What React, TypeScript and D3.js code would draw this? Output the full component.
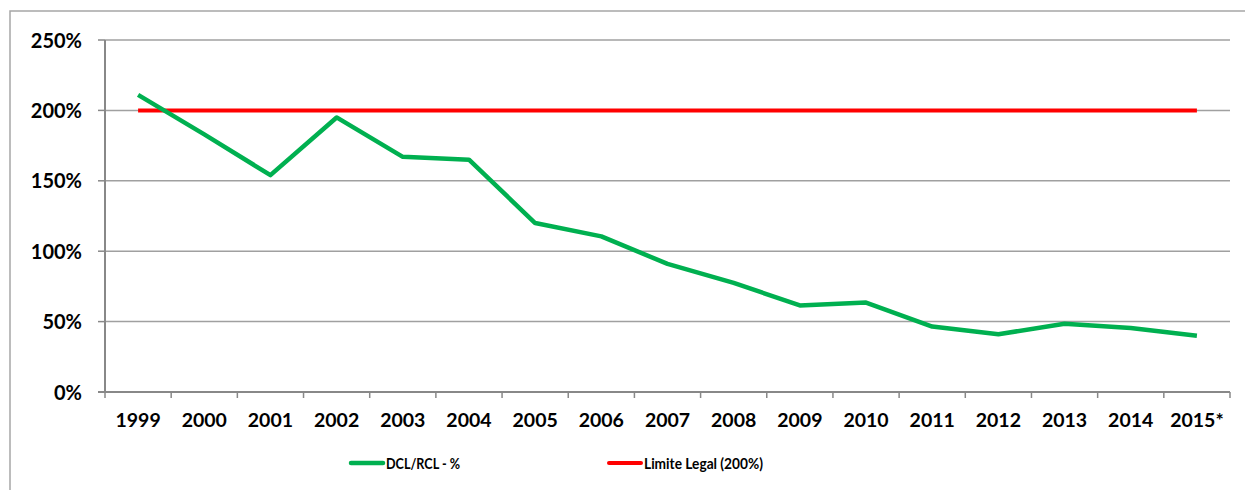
import React from "react";
import * as d3 from "d3";

const years = ["1999","2000","2001","2002","2003","2004","2005","2006","2007","2008","2009","2010","2011","2012","2013","2014","2015*"];
const dclRcl = [211, 183, 154, 195, 167, 165, 120, 110.5, 91, 77.5, 61.5, 63.5, 46.5, 41, 48.5, 45.5, 40];
const legalLimit = years.map(() => 200);
const yTicks = [0, 50, 100, 150, 200, 250];
const seriesNames = ["DCL/RCL - %", "Limite Legal (200%)"];

const W = 1245, H = 490;
const plot = { left: 105, right: 1230, top: 40, bottom: 392 };
const FONT = "Lato, 'Open Sans', sans-serif";

export default function App() {
  const x = d3.scaleBand<string>().domain(years).range([plot.left, plot.right]);
  const y = d3.scaleLinear().domain([0, 250]).range([plot.bottom, plot.top]);
  const cx = (d: string) => (x(d) as number) + x.bandwidth() / 2;
  const line = d3.line<number>().x((_, i) => cx(years[i])).y((v) => y(v));
  const tickXs = years.map((d) => x(d) as number).concat([plot.right]);

  return (
    <svg width={W} height={H} style={{ position: "absolute", left: 0, top: 0, background: "#fff" }}>
      <rect x={10} y={11} width={W + 20} height={H + 20} fill="#fff" stroke="#a6a6a6" strokeWidth={1.5} />
      {yTicks.map((t) => (
        <g key={t}>
          {t > 0 && <line x1={plot.left} x2={plot.right} y1={y(t)} y2={y(t)} stroke="#a0a0a0" strokeWidth={1.5} />}
          <line x1={plot.left - 7} x2={plot.left} y1={y(t)} y2={y(t)} stroke="#888" strokeWidth={1.5} />
          <text x={82} y={y(t)} dy="0.38em" textAnchor="end" fontFamily={FONT} fontWeight={700} fontSize={20} fill="#000">
            {t}%
          </text>
        </g>
      ))}
      <line x1={plot.left} x2={plot.left} y1={plot.top} y2={plot.bottom} stroke="#888" strokeWidth={2} />
      <line x1={plot.left - 7} x2={plot.right} y1={plot.bottom} y2={plot.bottom} stroke="#888" strokeWidth={2} />
      {tickXs.map((tx, i) => (
        <line key={i} x1={tx} x2={tx} y1={plot.bottom} y2={plot.bottom + 6} stroke="#888" strokeWidth={1.5} />
      ))}
      {years.map((d) => (
        <text key={d} x={cx(d)} y={426.5} textAnchor="middle" fontFamily={FONT} fontWeight={700} fontSize={19.5} fill="#000">
          {d}
        </text>
      ))}
      <path d={line(legalLimit) || ""} fill="none" stroke="#ff0000" strokeWidth={4} />
      <path d={line(dclRcl) || ""} fill="none" stroke="#00b050" strokeWidth={4.5} strokeLinejoin="round" />
      <g>
        <line x1={351} x2={383} y1={463} y2={463} stroke="#00b050" strokeWidth={4.5} strokeLinecap="round" />
        <text x={386} y={469} fontFamily={FONT} fontWeight={700} fontSize={15.5} fill="#000" textLength={74} lengthAdjust="spacingAndGlyphs">{seriesNames[0]}</text>
        <line x1={609} x2={641} y1={463} y2={463} stroke="#ff0000" strokeWidth={4} strokeLinecap="round" />
        <text x={644} y={469} fontFamily={FONT} fontWeight={700} fontSize={15.5} fill="#000" textLength={119} lengthAdjust="spacingAndGlyphs">{seriesNames[1]}</text>
      </g>
    </svg>
  );
}
